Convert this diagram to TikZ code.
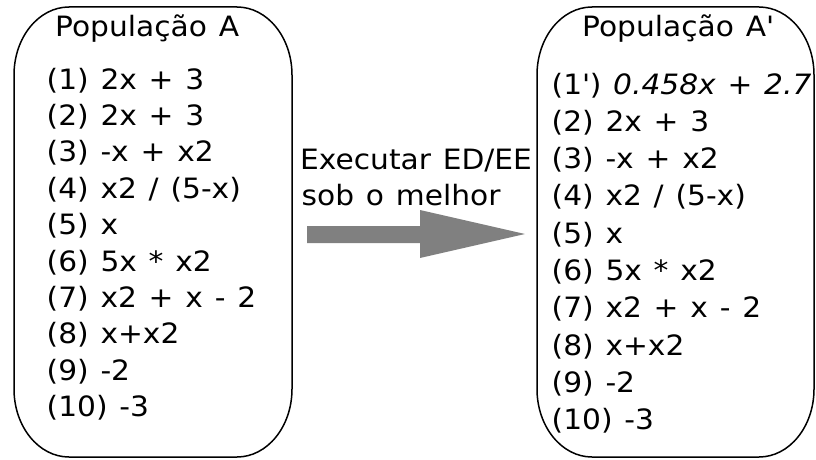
\documentclass[tikz,border=0pt]{standalone}
\usepackage{fontspec}
\setmainfont{DejaVu Sans}[FakeStretch=1.06,WordSpace=1.25]
\definecolor{arrowgray}{HTML}{808080}
\begin{document}
\begin{tikzpicture}[x=1pt,y=1pt,
  txt/.style={anchor=base west,inner sep=0pt,font=\fontsize{28pt}{33pt}\selectfont},
  popbox/.style={draw=black,line width=1.5pt,line join=round}]
\useasboundingbox (0,0) rectangle (816,459);

% population containers with elliptical corners
\draw[popbox] (69,452) -- (237,452)
  arc[start angle=90,end angle=0,x radius=55,y radius=68] -- (292,70)
  arc[start angle=0,end angle=-90,x radius=55,y radius=68] -- (69,2)
  arc[start angle=270,end angle=180,x radius=55,y radius=68] -- (14,384)
  arc[start angle=180,end angle=90,x radius=55,y radius=68] -- cycle;
\draw[popbox] (592,452) -- (759,452)
  arc[start angle=90,end angle=0,x radius=55,y radius=68] -- (814,70)
  arc[start angle=0,end angle=-90,x radius=55,y radius=68] -- (592,2)
  arc[start angle=270,end angle=180,x radius=55,y radius=68] -- (537,384)
  arc[start angle=180,end angle=90,x radius=55,y radius=68] -- cycle;

% titles
\node[txt] (titleA) at (55,422) {População A};
\node[txt] (titleB) at (582,422) {População A\textquotesingle};

% population A
\node[txt] (a1)  at (46.5,370.0) {(1) 2x + 3};
\node[txt] (a2)  at (46.5,333.6) {(2) 2x + 3};
\node[txt] (a3)  at (46.5,297.2) {(3) -x + x2};
\node[txt] (a4)  at (46.5,260.8) {(4) x2 / (5-x)};
\node[txt] (a5)  at (46.5,224.4) {(5) x};
\node[txt] (a6)  at (46.5,188.0) {(6) 5x * x2};
\node[txt] (a7)  at (46.5,151.6) {(7) x2 + x - 2};
\node[txt] (a8)  at (46.5,115.2) {(8) x+x2};
\node[txt] (a9)  at (46.5,78.8)  {(9) -2};
\node[txt] (a10) at (46.5,42.4)  {(10) -3};

% population A'
\node[txt] (b1)  at (551.5,365.0) {(1\textquotesingle) \textit{0.458x + 2.7}};
\node[txt] (b2)  at (551.5,327.7) {(2) 2x + 3};
\node[txt] (b3)  at (551.5,290.4) {(3) -x + x2};
\node[txt] (b4)  at (551.5,253.1) {(4) x2 / (5-x)};
\node[txt] (b5)  at (551.5,215.8) {(5) x};
\node[txt] (b6)  at (551.5,178.5) {(6) 5x * x2};
\node[txt] (b7)  at (551.5,141.2) {(7) x2 + x - 2};
\node[txt] (b8)  at (551.5,103.9) {(8) x+x2};
\node[txt] (b9)  at (551.5,66.6)  {(9) -2};
\node[txt] (b10) at (551.5,29.3)  {(10) -3};

% operation label and block arrow
\node[txt] (op1) at (300,290) {Executar ED/EE};
\node[txt] (op2) at (301.5,254) {sob o melhor};
\fill[arrowgray] (307,233) -- (420,233) -- (420,249) -- (525,225)
  -- (420,201) -- (420,216) -- (307,216) -- cycle;
\end{tikzpicture}
\end{document}
